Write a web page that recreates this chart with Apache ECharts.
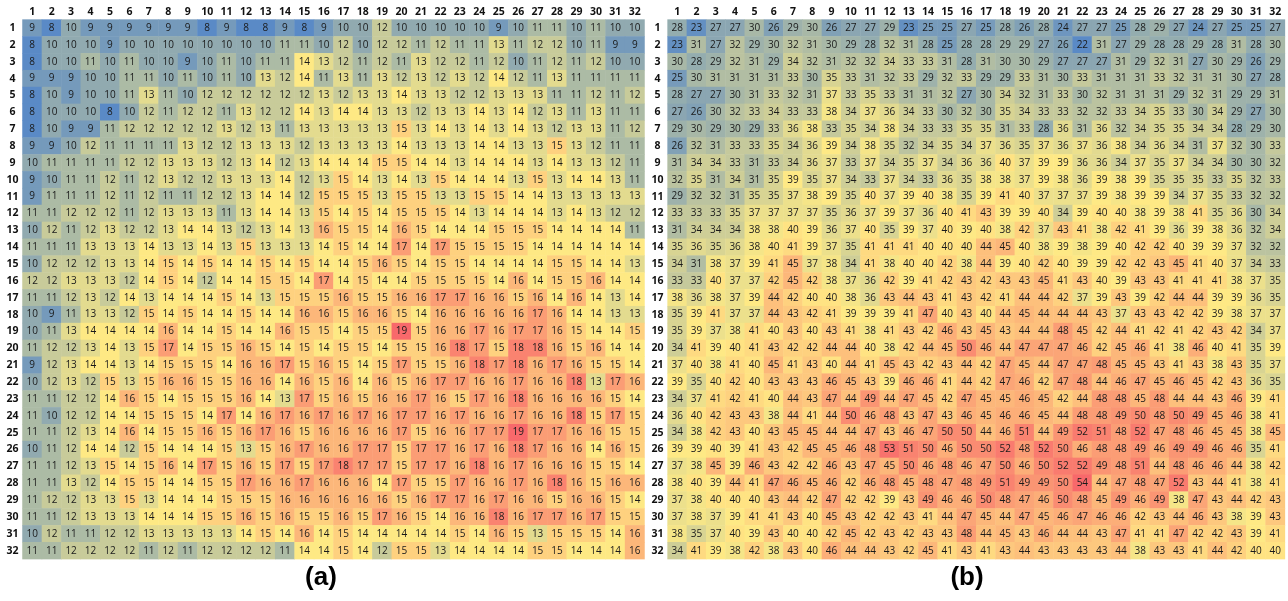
<!DOCTYPE html>
<html>
<head>
<meta charset="utf-8">
<script src="https://cdn.jsdelivr.net/npm/echarts@6/dist/echarts.min.js"></script>
<style>
  html, body { margin: 0; padding: 0; background: #ffffff; }
  #chart { width: 1288px; height: 601px; }
</style>
</head>
<body>
<div id="chart"></div>
<script>
// Column and row tick labels (shared by both maps)
const colLabels = ['1','2','3','4','5','6','7','8','9','10','11','12','13','14','15','16',
                   '17','18','19','20','21','22','23','24','25','26','27','28','29','30','31','32'];
const rowLabels = ['1','2','3','4','5','6','7','8','9','10','11','12','13','14','15','16',
                   '17','18','19','20','21','22','23','24','25','26','27','28','29','30','31','32'];

// Map (a): one row per list, columns 1..32
const mapA = [
  [9,8,10,9,9,9,9,9,9,8,9,8,8,9,8,9,10,10,12,10,10,10,10,10,9,10,11,11,10,11,10,10],
  [8,10,10,10,9,10,10,10,10,10,10,10,10,11,11,10,12,10,12,12,11,12,11,11,13,11,12,12,10,11,9,9],
  [8,10,10,11,10,11,10,10,9,10,11,10,11,11,14,13,12,11,12,11,13,12,12,11,12,10,11,12,11,12,10,10],
  [9,9,9,10,10,11,11,10,11,10,11,10,13,12,14,11,13,11,13,12,13,12,13,12,14,12,11,13,11,11,11,11],
  [8,10,9,10,10,11,13,11,10,12,12,12,12,12,12,13,12,13,13,14,13,13,12,12,13,13,13,11,11,12,11,12],
  [8,10,10,10,8,10,12,11,12,12,11,13,12,12,14,13,14,14,13,13,12,13,13,14,13,14,12,13,11,13,11,11],
  [8,10,9,9,11,12,12,12,12,12,13,12,13,11,13,13,13,13,13,15,13,14,13,14,13,14,13,12,13,13,11,12],
  [9,9,10,12,11,11,11,11,13,12,12,13,13,13,12,13,13,13,13,14,13,13,13,14,14,13,13,15,13,12,11,11],
  [10,11,11,11,11,12,12,13,13,13,12,13,14,12,13,14,14,14,15,15,14,14,13,14,14,14,13,14,13,13,12,11],
  [9,10,11,11,12,11,12,13,12,12,13,13,13,14,12,13,15,14,13,14,13,15,14,14,14,13,15,13,14,14,13,11],
  [9,11,11,11,12,11,12,11,11,12,12,13,14,14,12,15,15,15,13,15,15,13,13,15,15,14,14,13,13,13,13,13],
  [11,11,12,12,12,11,12,13,13,13,11,13,14,14,13,15,14,15,14,15,15,15,14,13,14,14,14,13,14,13,12,12],
  [10,12,11,12,13,12,12,13,14,14,13,12,13,14,13,16,15,15,14,16,15,14,14,14,15,15,15,14,14,14,14,11],
  [11,11,11,13,13,13,14,13,13,14,13,15,13,13,13,14,15,14,14,17,14,17,15,15,15,15,14,14,14,14,14,14],
  [10,12,12,12,13,13,14,15,14,15,14,14,15,14,15,14,14,15,16,15,14,15,15,14,14,14,14,15,15,14,14,13],
  [12,12,13,13,13,12,14,15,14,12,14,14,15,15,14,17,14,15,14,14,15,15,15,15,14,16,14,15,15,16,14,14],
  [11,11,12,13,12,14,13,14,14,14,15,14,13,15,15,15,16,15,15,16,16,17,17,16,16,15,16,14,16,14,13,14],
  [10,9,11,13,13,12,15,14,15,14,14,15,14,14,16,16,15,16,16,15,14,16,16,16,16,16,17,16,14,14,13,13],
  [10,11,13,14,14,14,14,16,14,14,15,14,14,16,15,15,14,15,15,19,15,16,16,17,16,17,17,16,15,14,14,15],
  [11,12,12,13,14,13,15,17,14,15,15,16,15,14,15,14,15,15,14,15,15,16,18,17,15,18,18,16,15,16,14,14],
  [9,12,13,14,14,13,14,15,15,15,14,16,16,17,15,16,15,14,15,17,15,15,16,18,17,18,16,17,16,15,15,14],
  [10,12,13,12,15,13,15,16,16,15,15,16,16,14,16,15,16,14,16,15,16,17,17,16,16,17,16,16,18,13,17,16],
  [11,11,12,12,14,16,15,14,15,15,15,16,14,13,17,15,16,15,16,16,17,16,15,17,16,18,16,16,16,16,15,14],
  [11,10,12,12,14,14,15,15,15,14,17,14,16,17,16,17,16,17,16,17,17,16,17,16,16,17,16,16,18,15,17,15],
  [11,11,12,13,14,16,14,15,15,16,15,16,17,16,15,16,16,16,16,17,15,16,16,17,17,19,17,17,16,16,15,15],
  [10,11,12,14,14,12,15,14,14,14,15,13,15,16,17,16,16,17,17,15,17,17,16,17,16,18,17,16,16,14,16,15],
  [11,11,12,13,15,14,15,16,14,17,15,16,15,17,15,17,18,17,17,15,17,17,16,18,16,17,16,16,16,15,15,14],
  [11,11,13,12,14,15,15,14,14,15,15,17,16,16,17,16,16,16,14,17,15,15,17,16,16,17,16,18,16,15,16,16],
  [11,12,12,13,13,15,13,14,14,14,15,15,15,16,16,16,16,16,16,15,16,17,17,16,17,16,16,15,16,16,15,14],
  [11,11,12,13,13,13,14,14,14,15,15,16,15,16,15,15,16,15,17,16,15,14,16,16,18,16,17,17,16,17,15,15],
  [10,12,11,11,12,12,13,13,13,13,13,14,15,14,16,14,15,14,14,14,14,14,15,14,16,15,13,15,15,15,14,16],
  [11,11,12,12,12,12,11,12,11,12,12,12,12,11,14,14,15,14,12,15,15,13,14,14,14,14,15,15,14,14,14,16]
];

// Map (b): one row per list, columns 1..32
const mapB = [
  [28,23,27,27,30,26,29,30,26,27,27,29,23,25,25,27,25,28,26,28,24,27,27,25,28,29,27,24,27,25,25,27],
  [23,31,27,32,29,30,32,31,30,29,28,32,31,28,25,28,28,29,29,27,26,22,31,27,29,28,28,29,28,31,28,30],
  [30,28,29,32,31,29,34,32,31,32,32,34,33,33,31,28,31,30,30,29,27,27,27,31,29,32,31,27,30,29,26,29],
  [25,30,31,31,31,31,33,30,35,33,31,32,33,29,32,33,29,29,33,31,30,33,31,31,31,33,32,31,31,30,27,28],
  [28,27,27,30,31,33,32,31,37,33,35,33,31,31,32,27,30,34,32,31,33,30,32,31,31,31,29,32,31,29,29,31],
  [27,26,30,32,33,34,33,33,38,34,37,36,34,33,30,32,30,35,34,33,33,32,32,33,34,35,33,30,34,29,27,30],
  [29,30,29,30,29,33,36,38,33,35,34,38,34,33,33,35,35,31,33,28,36,31,36,32,34,35,35,34,34,28,29,30],
  [26,32,31,33,33,35,34,36,39,34,38,35,32,34,35,34,37,36,35,37,36,37,36,38,34,36,34,31,37,32,30,33],
  [31,34,34,33,31,33,34,36,37,33,37,34,35,37,34,36,36,40,37,39,39,36,36,34,37,35,37,34,34,30,30,32],
  [32,35,31,34,31,35,39,35,37,34,33,37,34,33,36,35,38,38,37,39,38,36,39,38,39,35,35,35,33,35,32,33],
  [29,32,32,31,35,35,37,38,39,35,40,37,39,40,38,35,39,41,40,37,37,37,39,38,39,39,34,37,35,33,32,32],
  [33,33,33,35,37,37,37,37,35,36,37,39,37,36,40,41,43,39,39,40,34,39,40,40,38,39,38,41,35,36,30,34],
  [31,34,34,34,38,38,40,39,36,37,40,35,39,37,40,39,40,38,42,37,43,41,38,42,41,39,36,39,38,36,32,34],
  [35,36,35,36,38,40,41,39,37,35,41,41,41,40,40,40,44,45,40,38,39,38,39,40,42,42,40,39,39,37,32,32],
  [34,31,38,37,39,41,45,37,38,34,41,38,40,40,42,38,44,39,40,42,40,39,39,42,42,43,45,41,40,37,34,33],
  [33,33,40,37,37,42,45,42,38,37,36,42,39,41,42,43,42,43,43,45,41,43,40,39,43,43,41,41,41,38,37,35],
  [38,36,38,37,39,44,42,40,40,38,36,43,44,43,41,43,42,41,44,44,42,37,39,43,39,42,44,44,39,39,36,35],
  [35,39,41,37,37,44,43,42,41,39,39,39,41,47,40,43,40,44,45,44,44,44,43,37,43,43,42,42,39,38,37,37],
  [35,39,37,38,41,40,43,40,43,41,38,41,43,42,46,43,45,43,44,44,48,45,42,44,41,42,41,42,43,42,34,37],
  [34,41,39,40,41,43,42,42,44,44,40,38,42,44,45,50,46,44,47,47,47,46,42,45,46,41,38,46,40,41,35,39],
  [37,40,38,41,40,45,41,43,40,44,41,45,43,42,43,44,42,47,45,44,47,47,48,45,45,43,41,43,38,43,35,37],
  [39,35,40,42,40,43,43,43,46,45,43,39,46,46,41,44,42,47,46,42,47,48,44,46,47,45,46,45,42,43,36,35],
  [34,37,41,42,41,40,44,43,47,44,49,44,47,45,42,47,45,45,46,45,42,44,48,48,45,48,44,44,43,46,39,41],
  [36,40,42,43,43,38,44,41,44,50,46,48,43,47,43,46,45,46,46,45,44,48,48,49,50,48,50,49,45,46,38,41],
  [34,38,42,43,40,43,45,45,44,44,47,43,46,47,50,50,44,46,51,44,49,52,51,48,52,47,48,46,45,45,38,45],
  [39,39,40,39,41,43,42,45,45,46,48,53,51,50,46,50,50,52,48,52,50,46,48,48,49,46,49,49,46,46,35,41],
  [37,38,45,39,46,43,42,42,46,43,47,45,50,46,48,46,47,50,46,50,52,52,49,48,51,44,48,46,46,44,38,42],
  [38,40,39,44,41,47,46,45,46,42,46,48,45,48,47,48,49,51,49,49,50,54,44,47,48,47,52,43,44,41,38,41],
  [37,38,40,40,40,43,44,42,47,42,42,39,43,49,46,46,50,48,47,46,50,48,45,49,46,49,38,47,43,44,42,43],
  [37,38,37,39,41,41,43,40,45,43,42,42,43,41,44,47,45,44,47,45,46,47,46,46,42,43,44,46,43,38,39,43],
  [38,35,37,40,39,43,40,40,42,45,42,43,42,43,43,48,44,45,43,46,44,44,43,47,41,41,47,42,42,43,39,41],
  [34,41,39,38,42,38,43,40,46,44,44,43,42,45,41,43,41,43,44,43,43,43,43,44,38,43,43,41,44,42,40,40]
];

// Three-point colour scale: low blue, median yellow, high red
const LOW = [90, 138, 198], MID = [255, 235, 132], HIGH = [248, 105, 107];

function toCells(matrix) {
  const cells = [];
  matrix.forEach((row, r) => row.forEach((v, c) => cells.push([c, r, v])));
  return cells;
}
function median(matrix) {
  const s = matrix.flat().slice().sort((a, b) => a - b);
  const k = (s.length - 1) * 0.5, lo = Math.floor(k);
  return s[lo] + (s[Math.min(lo + 1, s.length - 1)] - s[lo]) * (k - lo);
}
function mix(a, b, t) {
  return 'rgb(' + a.map((x, i) => Math.round(x + (b[i] - x) * t)).join(',') + ')';
}
// Evenly spaced colour stops between min and max that follow the low/mid/high scale
function ramp(min, mid, max, n) {
  const stops = [];
  for (let i = 0; i <= n; i++) {
    const v = min + (max - min) * i / n;
    stops.push(v <= mid ? mix(LOW, MID, (v - min) / (mid - min)) : mix(MID, HIGH, (v - mid) / (max - mid)));
  }
  return stops;
}
function scaleFor(matrix, idx) {
  const flat = matrix.flat();
  const min = Math.min(...flat), max = Math.max(...flat);
  return {
    type: 'continuous', show: false, seriesIndex: idx,
    min: min, max: max,
    inRange: { color: ramp(min, median(matrix), max, 40) }
  };
}

const axisCommon = {
  type: 'category',
  axisLine: { show: false },
  axisTick: { show: false },
  splitLine: { show: false },
  splitArea: { show: false }
};
const tickFont = { fontFamily: 'Open Sans', fontWeight: 'bold', fontSize: 10.5, color: '#111' };

function xAxisFor(gridIndex) {
  return Object.assign({}, axisCommon, {
    gridIndex, position: 'top', data: colLabels,
    axisLabel: Object.assign({ interval: 0, margin: 2 }, tickFont)
  });
}
function yAxisFor(gridIndex) {
  return Object.assign({}, axisCommon, {
    gridIndex, inverse: true, data: rowLabels,
    axisLabel: Object.assign({ interval: 0, margin: 10, align: 'center' }, tickFont)
  });
}
function heatSeries(matrix, idx) {
  return {
    type: 'heatmap',
    xAxisIndex: idx, yAxisIndex: idx,
    data: toCells(matrix),
    label: { show: true, fontFamily: 'Open Sans', fontSize: 10, color: '#1a1a1a' },
    itemStyle: { borderWidth: 0 },
    emphasis: { disabled: true },
    progressive: 0,
    animation: false
  };
}

const chart = echarts.init(document.getElementById('chart'), null, { renderer: 'canvas' });
chart.setOption({
  animation: false,
  backgroundColor: '#ffffff',
  grid: [
    { left: 22.5, top: 19.6, width: 622, height: 539.5 },
    { left: 667.6, top: 19.6, width: 617.3, height: 539.5 }
  ],
  xAxis: [xAxisFor(0), xAxisFor(1)],
  yAxis: [yAxisFor(0), yAxisFor(1)],
  visualMap: [scaleFor(mapA, 0), scaleFor(mapB, 1)],
  series: [heatSeries(mapA, 0), heatSeries(mapB, 1)],
  graphic: [
    { type: 'text', x: 321, y: 578,
      style: { text: '(a)', font: 'bold 26px "Liberation Sans", Arial, sans-serif', fill: '#000', align: 'center', verticalAlign: 'middle' } },
    { type: 'text', x: 967, y: 578,
      style: { text: '(b)', font: 'bold 26px "Liberation Sans", Arial, sans-serif', fill: '#000', align: 'center', verticalAlign: 'middle' } }
  ]
});
</script>
</body>
</html>
